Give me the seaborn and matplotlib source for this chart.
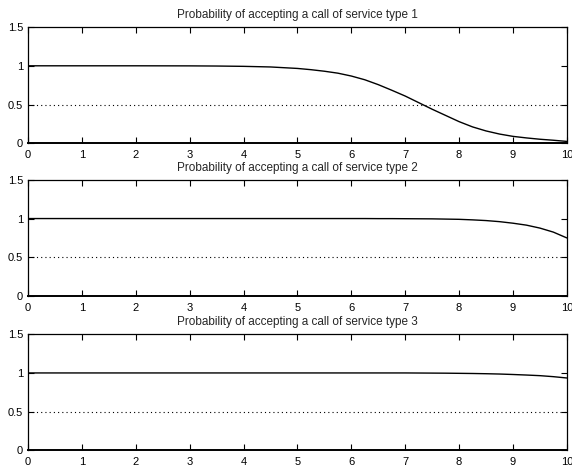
import matplotlib

matplotlib.use("Agg")
import matplotlib.pyplot as plt
import pandas as pd
import seaborn as sns

# offered load and acceptance probabilities
load = [0, 1, 2, 3, 3.5, 4, 4.5, 5, 5.25, 5.5, 5.75, 6, 6.25, 6.5, 6.75,
        7, 7.25, 7.5, 7.75, 8, 8.25, 8.5, 8.75, 9, 9.25, 9.5, 9.75, 10]
service1 = [1.0, 1.0, 1.0, 0.999, 0.997, 0.993, 0.985, 0.966, 0.95, 0.93,
            0.905, 0.868, 0.82, 0.757, 0.685, 0.61, 0.525, 0.44, 0.36,
            0.28, 0.212, 0.16, 0.12, 0.09, 0.07, 0.053, 0.04, 0.025]
service2 = [1.0, 1.0, 1.0, 1.0, 1.0, 1.0, 1.0, 1.0, 1.0, 1.0, 1.0, 1.0,
            1.0, 0.999, 0.999, 0.998, 0.997, 0.996, 0.993, 0.99, 0.983,
            0.974, 0.96, 0.94, 0.915, 0.877, 0.825, 0.75]
service3 = [1.0, 1.0, 1.0, 1.0, 1.0, 1.0, 1.0, 1.0, 1.0, 1.0, 1.0, 1.0,
            1.0, 1.0, 1.0, 1.0, 0.999, 0.998, 0.997, 0.995, 0.993, 0.99,
            0.986, 0.98, 0.973, 0.965, 0.952, 0.935]
threshold = 0.5

xticks = list(range(0, 11))
yticks = [0, 0.5, 1, 1.5]
yticklabels = ["0", "0.5", "1", "1.5"]

sns.set_style("ticks")
plt.rcParams["font.family"] = ["Liberation Sans", "DejaVu Sans"]
plt.rcParams["font.size"] = 8

fig = plt.figure(figsize=(5.72, 4.70), dpi=100)

series = [service1, service2, service3]
bottoms = [0.695, 0.370, 0.0415]

for i, (vals, bottom) in enumerate(zip(series, bottoms)):
    ax = fig.add_axes([0.049, bottom, 0.942, 0.2475])
    df = pd.DataFrame({"load": load, "p": vals})
    sns.lineplot(data=df, x="load", y="p", ax=ax, color="black", linewidth=1.0)
    ax.axhline(threshold, color="black", linestyle=(0, (1, 2.8)), linewidth=0.8)

    ax.set_xlim(0, 10)
    ax.set_ylim(0, 1.5)
    ax.set_xticks(xticks)
    ax.set_yticks(yticks)
    ax.set_yticklabels(yticklabels)
    ax.tick_params(direction="in", length=4, width=0.8, top=True, right=True,
                   labelsize=8, colors="black")
    ax.tick_params(axis="x", pad=5)
    ax.tick_params(axis="y", pad=3.5)
    for lbl in ax.get_xticklabels():
        lbl.set_clip_on(False)
    for side, spine in ax.spines.items():
        spine.set_visible(True)
        spine.set_color("black")
        spine.set_linewidth(0.9)
    ax.spines["bottom"].set_linewidth(1.4)
    ax.set_xlabel("")
    ax.set_ylabel("")
    ax.set_title(f"Probability of accepting a call of service type {i + 1}",
                 fontsize=8.5, pad=6.5)

fig.savefig("out.png", dpi=100)
